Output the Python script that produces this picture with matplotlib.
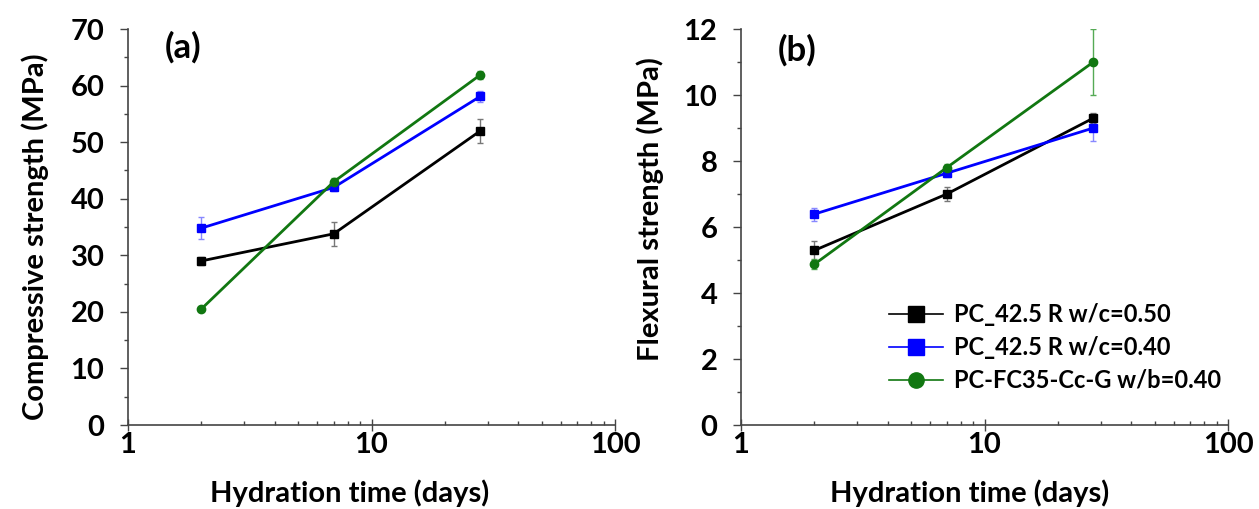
import matplotlib
matplotlib.use("Agg")
import matplotlib.pyplot as plt
from matplotlib.lines import Line2D
from matplotlib.ticker import MultipleLocator, NullFormatter, LogLocator

plt.rcParams['font.family'] = ['Lato', 'DejaVu Sans']
plt.rcParams['font.weight'] = 'bold'

days = [2, 7, 28]
series = ["PC_42.5 R w/c=0.50", "PC_42.5 R w/c=0.40", "PC-FC35-Cc-G w/b=0.40"]
colors = ["#000000", "#0000ff", "#117711"]
ecolors = ["#777777", "#8888ff", "#55aa55"]
markers = ["s", "s", "o"]

comp_vals = [[29.0, 33.8, 52.0], [34.8, 42.0, 58.1], [20.5, 43.0, 61.9]]
comp_err = [[0.7, 2.1, 2.1], [2.0, 0.6, 1.0], [0.4, 0.6, 0.7]]
flex_vals = [[5.29, 7.0, 9.3], [6.39, 7.63, 9.0], [4.87, 7.8, 11.0]]
flex_err = [[0.3, 0.2, 0.15], [0.2, 0.1, 0.4], [0.15, 0.1, 1.0]]

W, H = 1259, 509
fig = plt.figure(figsize=(W / 100, H / 100), dpi=100)

def px_axes(l, r, t, b):
    return fig.add_axes([l / W, 1 - b / H, (r - l) / W, (b - t) / H])

axa = px_axes(128, 615, 29, 425)
axb = px_axes(741, 1228, 29, 425)

def draw(ax, vals, errs, ymax, ystep, yminor, xlab_x):
    for v, e, c, ec, m in zip(vals, errs, colors, ecolors, markers):
        ax.errorbar(days, v, yerr=e, color=c, ecolor=ec, elinewidth=1.0,
                    capsize=2.5, capthick=1.0, lw=2.0, marker=m, ms=6,
                    zorder=3)
    ax.set_xscale('log')
    ax.set_xlim(1, 100)
    ax.set_ylim(0, ymax)
    ax.set_xticks([1, 10, 100])
    ax.set_xticklabels(['1', '10', '100'])
    ax.xaxis.set_minor_locator(LogLocator(base=10, subs=range(2, 10)))
    ax.xaxis.set_minor_formatter(NullFormatter())
    ax.yaxis.set_major_locator(MultipleLocator(ystep))
    ax.yaxis.set_minor_locator(MultipleLocator(yminor))
    for s in ['top', 'right']:
        ax.spines[s].set_visible(False)
    for s in ['left', 'bottom']:
        ax.spines[s].set_color('#444444')
        ax.spines[s].set_linewidth(1.2)
    ax.tick_params(axis='y', which='major', direction='out', length=6,
                   width=1.0, color='#444444', labelsize=21, pad=11)
    ax.tick_params(axis='y', which='minor', direction='out', length=3,
                   width=1.0, color='#444444')
    ax.tick_params(axis='x', which='major', direction='inout', length=8,
                   width=1.0, color='#444444', labelsize=21, pad=1)
    ax.tick_params(axis='x', which='minor', direction='in', length=3,
                   width=1.0, color='#444444')
    ax.set_xlabel('Hydration time (days)', fontsize=21, fontweight='bold',
                  va='baseline')
    ax.xaxis.set_label_coords((xlab_x - ax.get_position().x0 * W) / 487,
                              -(502 - 425) / 396)

draw(axa, comp_vals, comp_err, 70, 10, 5, 350)
draw(axb, flex_vals, flex_err, 12, 2, 1, 970)

axa.set_ylabel('Compressive strength (MPa)', fontsize=21, fontweight='bold')
axa.yaxis.set_label_coords(-0.162, 0.475)
axb.set_ylabel('Flexural strength (MPa)', fontsize=21, fontweight='bold')
axb.yaxis.set_label_coords(-0.158, 0.545)

fig.text(183 / W, 1 - 47 / H, '(a)', fontsize=25, fontweight='bold',
         ha='center', va='center')
fig.text(797 / W, 1 - 50 / H, '(b)', fontsize=25, fontweight='bold',
         ha='center', va='center')

handles = [Line2D([], [], color=c, lw=1.2, marker=m, ms=11)
           for c, m in zip(colors, markers)]
axb.legend(handles, series, loc='upper left',
           bbox_to_anchor=((889 - 741) / 487, (425 - 303) / 396),
           frameon=False, handlelength=2.3, handletextpad=0.45,
           labelspacing=0.42, borderpad=0, borderaxespad=0,
           prop={'weight': 'bold', 'size': 17})

fig.savefig('out.png', dpi=100)
